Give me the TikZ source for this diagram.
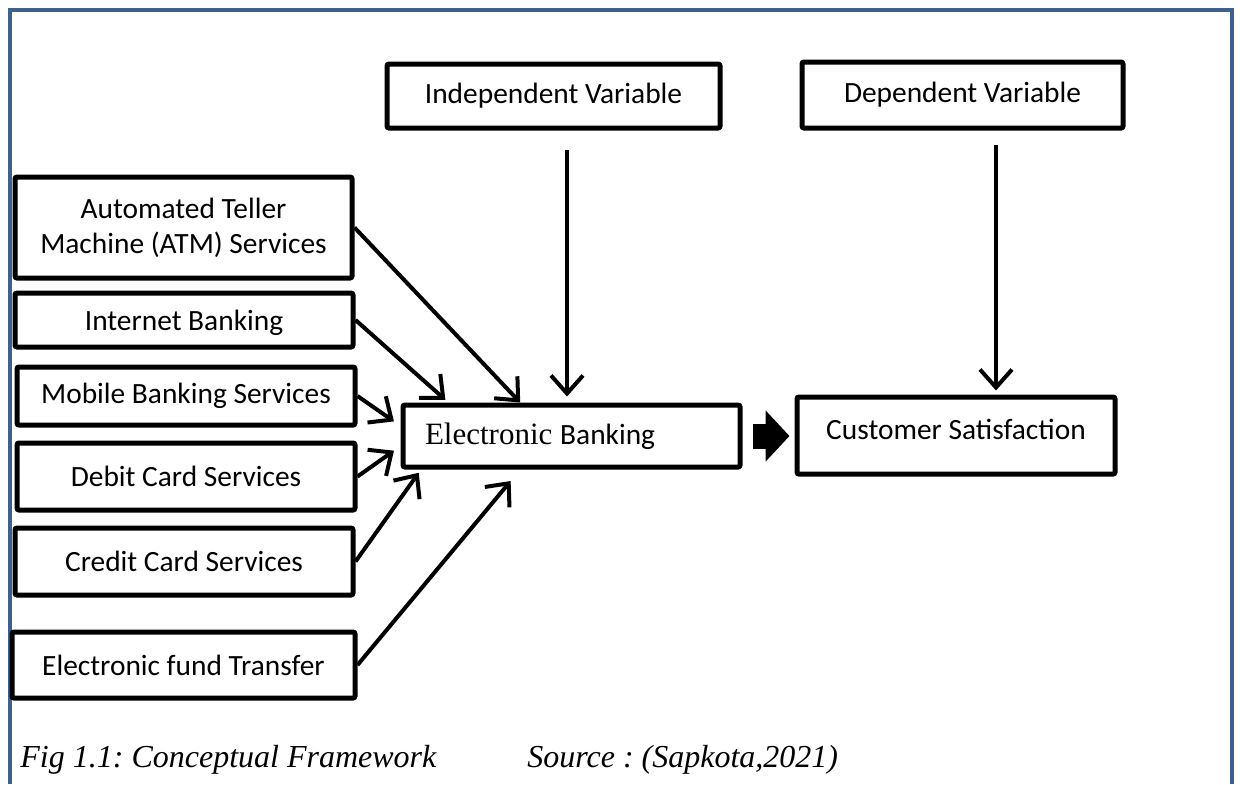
\documentclass[tikz,border=0pt]{standalone}
\usepackage{fontspec}
\setmainfont{Carlito}
\newfontfamily\timesf{Liberation Serif}
\usetikzlibrary{arrows.meta,calc}
\definecolor{frameblue}{RGB}{62,96,140}
\frenchspacing
\begin{document}
\begin{tikzpicture}[x=0.5pt,y=-0.5pt,
  box/.style={draw, line width=2.5pt, rectangle, rounded corners=1pt, inner sep=0pt, align=center,
    font=\fontsize{14.7}{17.5}\selectfont},
  arr/.style={line width=2pt, -{Straight Barb[length=9pt,width=16pt]}},
  blockarr/.style={line width=12.5pt, -{Triangle[length=12pt,width=25pt]}},
  captext/.style={anchor=west, inner sep=0pt, font=\timesf\itshape\fontsize{16}{19}\selectfont}
]
\useasboundingbox (0,0) rectangle (1240,784);
\fill[white] (0,0) rectangle (1240,784);
% outer frame
\draw[frameblue, line width=2pt] (10,784) -- (10,10) -- (1232,10) -- (1232,784);

% boxes
\node[box, minimum width=166.5pt, minimum height=32pt] (indep) at (553.5,96) {Independent Variable};
\node[box, minimum width=160.5pt, minimum height=33pt] (dep) at (962.5,95) {Dependent Variable};
\node[box, minimum width=168.5pt, minimum height=50.5pt] (atm) at (183.5,227.5) {Automated Teller\\Machine (ATM) Services};
\node[box, minimum width=169pt, minimum height=27pt, text depth=0pt] (inet) at (184,320) {Internet Banking};
\node[box, minimum width=169pt, minimum height=29pt] (mob) at (186,396) {Mobile Banking Services};
\node[box, minimum width=169pt, minimum height=33.5pt] (deb) at (186,476.5) {Debit Card Services};
\node[box, minimum width=169pt, minimum height=33.5pt] (cred) at (184,561.5) {Credit Card Services};
\node[box, minimum width=171.5pt, minimum height=33pt] (eft) at (183.5,665) {Electronic fund Transfer};
\node[box, minimum width=168.5pt, minimum height=31pt, text width=146.5pt, inner xsep=11pt, align=left] (eb) at (571.5,436)
  {{\timesf\fontsize{15.5}{18}\selectfont Electronic}\hspace{-1pt} Banking};
\node[box, minimum width=159pt, minimum height=38.5pt, text depth=6pt] (cs) at (956,435.5) {Customer Satisfaction};

% arrows into Electronic Banking
\draw[arr] (atm.east) -- ($(eb.north west)!0.35!(eb.north east)$);
\draw[arr, shorten >=2pt] (inet.east) -- ($(eb.north west)!0.14!(eb.north east)$);
\draw[arr, shorten >=4pt] (mob.east) -- ($(eb.north west)!0.35!(eb.south west)$);
\draw[arr, shorten >=4pt] (deb.east) -- ($(eb.north west)!0.65!(eb.south west)$);
\draw[arr, shorten >=2pt] (cred.east) -- ($(eb.south west)!0.06!(eb.south east)$);
\draw[arr, shorten >=7.5pt] (eft.east) -- ($(eb.south west)!0.35!(eb.south east)$);

% vertical arrows
\coordinate (ia) at (567,150);
\coordinate (da) at (996,145);
\draw[arr, shorten >=3pt] (ia) -- (ia |- eb.north);
\draw[arr, shorten >=2pt] (da) -- (da |- cs.north);

% block arrow
\draw[blockarr, shorten <=5pt, shorten >=2.5pt] (eb.east) -- (eb.east -| cs.west);

% caption
\node[captext] (cap) at (20,760) {Fig 1.1: Conceptual Framework};
\node[captext] (src) at (527,760) {Source : (Sapkota,2021)};
\end{tikzpicture}
\end{document}
